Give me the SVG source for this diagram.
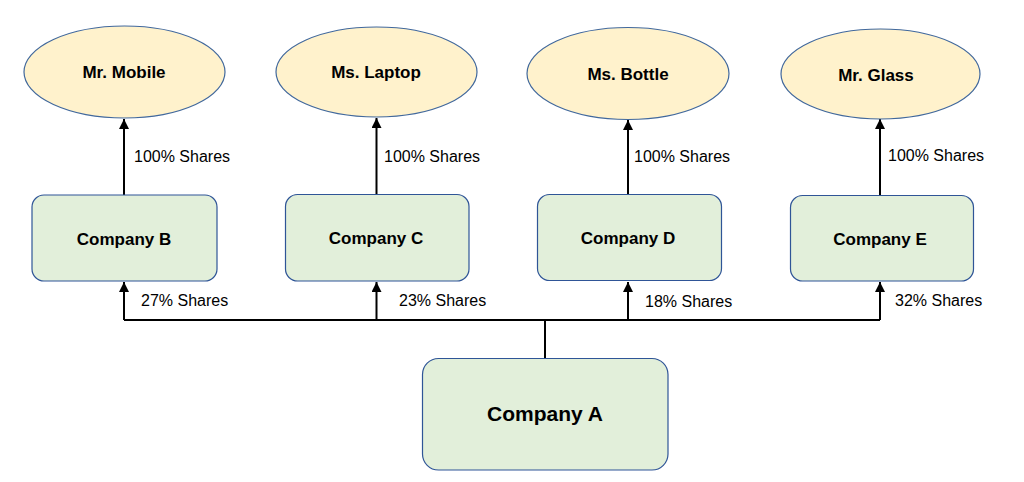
<svg xmlns="http://www.w3.org/2000/svg" width="1024" height="482" viewBox="0 0 1024 482">
<style>
.person{fill:#FFF2CC;stroke:#41689C;stroke-width:1.2}
.co{fill:#E2EFDA;stroke:#2F5597;stroke-width:1.2}
.lbl{font-family:"Liberation Sans",Arial,sans-serif;font-weight:bold;font-size:17px;fill:#000;text-anchor:middle}
.big{font-size:21px}
.sh{font-family:"Liberation Sans",Arial,sans-serif;font-size:16px;fill:#000}
.ln{fill:none;stroke:#000;stroke-width:2}
</style>
<defs>
<marker id="ah" viewBox="0 0 10 10" refX="10" refY="5" markerWidth="5" markerHeight="5" orient="auto" markerUnits="strokeWidth">
<path d="M0,0 L10,5 L0,10 Z" fill="#000"/>
</marker>
</defs>
<rect width="1024" height="482" fill="#fff"/>
<g id="connectors">
<path class="ln" d="M124,320 H880"/>
<path class="ln" d="M545,358 V320"/>
<path class="ln" d="M124,320 V282" marker-end="url(#ah)"/>
<path class="ln" d="M376.5,320 V282" marker-end="url(#ah)"/>
<path class="ln" d="M628,320 V282" marker-end="url(#ah)"/>
<path class="ln" d="M880,320 V282" marker-end="url(#ah)"/>
<path class="ln" d="M124,195 V119" marker-end="url(#ah)"/>
<path class="ln" d="M376.5,194 V118" marker-end="url(#ah)"/>
<path class="ln" d="M628,194 V120" marker-end="url(#ah)"/>
<path class="ln" d="M880,196 V119" marker-end="url(#ah)"/>
<text class="sh" x="134" y="162">100% Shares</text>
<text class="sh" x="384" y="162">100% Shares</text>
<text class="sh" x="634" y="162">100% Shares</text>
<text class="sh" x="888" y="161">100% Shares</text>
<text class="sh" x="141" y="306">27% Shares</text>
<text class="sh" x="399" y="306">23% Shares</text>
<text class="sh" x="645" y="307">18% Shares</text>
<text class="sh" x="895" y="306">32% Shares</text>
</g>
<g id="mr-mobile"><ellipse class="person" cx="124.5" cy="72" rx="100.5" ry="46"/><text class="lbl" x="124" y="78">Mr. Mobile</text></g>
<g id="ms-laptop"><ellipse class="person" cx="376.5" cy="72" rx="100.5" ry="45"/><text class="lbl" x="376" y="78">Ms. Laptop</text></g>
<g id="ms-bottle"><ellipse class="person" cx="628" cy="73.5" rx="101" ry="46"/><text class="lbl" x="628" y="80">Ms. Bottle</text></g>
<g id="mr-glass"><ellipse class="person" cx="880.5" cy="74" rx="99.5" ry="45"/><text class="lbl" x="876" y="81">Mr. Glass</text></g>
<g id="company-b"><rect class="co" x="32" y="195" width="185" height="86" rx="12"/><text class="lbl" x="124" y="245">Company B</text></g>
<g id="company-c"><rect class="co" x="285.5" y="194.5" width="183.5" height="86.5" rx="12"/><text class="lbl" x="376" y="244">Company C</text></g>
<g id="company-d"><rect class="co" x="537.5" y="194.5" width="184" height="86" rx="12"/><text class="lbl" x="628" y="244">Company D</text></g>
<g id="company-e"><rect class="co" x="790.5" y="195.5" width="183" height="85.5" rx="12"/><text class="lbl" x="880" y="245">Company E</text></g>
<g id="company-a"><rect class="co" x="422.5" y="358.5" width="245.5" height="111.5" rx="16"/><text class="lbl big" x="545" y="421">Company A</text></g>
</svg>
